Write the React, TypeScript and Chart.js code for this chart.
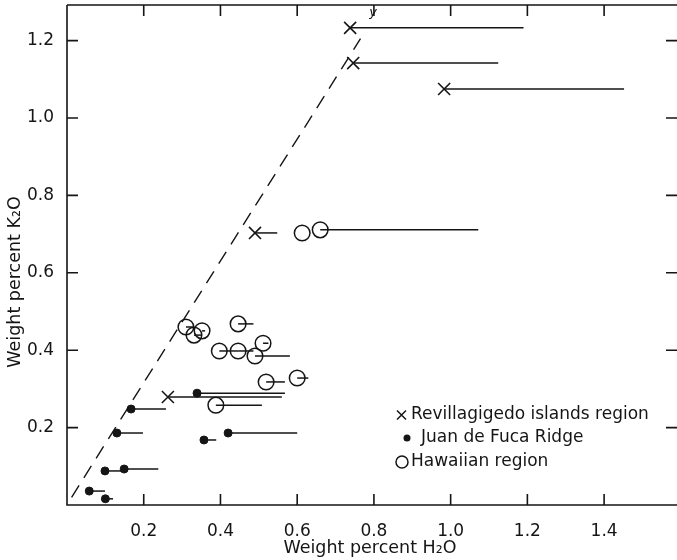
import React, { useEffect, useRef } from 'react';
import { Chart, registerables } from 'chart.js';

Chart.register(...registerables);

// Axis ticks
const xTickValues = [0.2, 0.4, 0.6, 0.8, 1.0, 1.2, 1.4];
const yTickValues = [0.2, 0.4, 0.6, 0.8, 1.0, 1.2];

// Revillagigedo islands region (×): H2O, K2O, right end of range line
const revX = [0.738, 0.746, 0.983, 0.49, 0.263];
const revY = [1.233, 1.142, 1.075, 0.703, 0.279];
const revEnd = [1.19, 1.124, 1.452, 0.548, 0.56];

// Juan de Fuca Ridge (●)
const fucaX = [0.339, 0.167, 0.13, 0.42, 0.357, 0.099, 0.149, 0.058, 0.1];
const fucaY = [0.289, 0.248, 0.186, 0.186, 0.168, 0.088, 0.093, 0.036, 0.016];
const fucaEnd = [0.568, 0.258, 0.198, 0.6, 0.389, 0.146, 0.238, 0.099, 0.12];

// Hawaiian region (○)
const hawX = [0.31, 0.331, 0.352, 0.446, 0.397, 0.446, 0.511, 0.49, 0.519, 0.6, 0.388, 0.613, 0.66];
const hawY = [0.46, 0.439, 0.45, 0.468, 0.398, 0.398, 0.418, 0.385, 0.318, 0.328, 0.258, 0.703, 0.711];
const hawEnd = [0.33, 0.35, 0.36, 0.486, 0.446, 0.486, 0.525, 0.581, 0.568, 0.629, 0.508, 0.613, 1.072];

// Dashed reference line
const dashX = [0.012, 0.765];
const dashY = [0.02, 1.205];

const legendLabels = ['Revillagigedo islands region', 'Juan de Fuca Ridge', 'Hawaiian region'];

const FONT = '"DejaVu Sans", sans-serif';
const INK = '#151515';

function segs(xs: number[], ys: number[], ends: number[]) {
  return xs.map((x, i) => ({
    type: 'scatter' as const,
    data: [{ x, y: ys[i] }, { x: ends[i], y: ys[i] }],
    showLine: true,
    borderColor: INK,
    borderWidth: 1.5,
    pointRadius: 0,
    order: 5,
  }));
}

const framePlugin = {
  id: 'frame',
  afterDraw(chart: any) {
    const { ctx, chartArea, scales } = chart;
    const { left, right, top, bottom } = chartArea;
    const x = scales.x;
    const y = scales.y;
    ctx.save();
    ctx.strokeStyle = INK;
    ctx.lineWidth = 1.6;
    ctx.beginPath();
    ctx.moveTo(left, top);
    ctx.lineTo(right, top);
    ctx.moveTo(left, top);
    ctx.lineTo(left, bottom);
    ctx.lineTo(right, bottom);
    ctx.stroke();
    ctx.beginPath();
    xTickValues.forEach((v) => {
      const px = x.getPixelForValue(v);
      ctx.moveTo(px, bottom);
      ctx.lineTo(px, bottom - 11);
      ctx.moveTo(px, top);
      ctx.lineTo(px, top + 11);
    });
    yTickValues.forEach((v) => {
      const py = y.getPixelForValue(v);
      ctx.moveTo(left, py);
      ctx.lineTo(left + 11, py);
      ctx.moveTo(right, py);
      ctx.lineTo(right - 11, py);
    });
    ctx.stroke();

    // axis titles
    ctx.fillStyle = INK;
    ctx.font = `17.5px ${FONT}`;
    ctx.textAlign = 'center';
    ctx.textBaseline = 'middle';
    ctx.fillText('Weight percent H₂O', 370, 548);
    ctx.save();
    ctx.translate(15, 282);
    ctx.rotate(-Math.PI / 2);
    ctx.fillText('Weight percent K₂O', 0, 0);
    ctx.restore();

    // 'y' label on dashed line
    ctx.font = `italic 13px ${FONT}`;
    ctx.fillText('y', x.getPixelForValue(0.798), y.getPixelForValue(1.272));

    // legend
    ctx.font = `17px ${FONT}`;
    ctx.textAlign = 'left';
    const rows = [415, 438, 462];
    // ×
    ctx.lineWidth = 1.5;
    ctx.beginPath();
    ctx.moveTo(397, rows[0] - 4.5);
    ctx.lineTo(406, rows[0] + 4.5);
    ctx.moveTo(406, rows[0] - 4.5);
    ctx.lineTo(397, rows[0] + 4.5);
    ctx.stroke();
    ctx.fillText(legendLabels[0], 411, rows[0]);
    // ●
    ctx.beginPath();
    ctx.arc(407, rows[1], 3.5, 0, Math.PI * 2);
    ctx.fill();
    ctx.fillText(legendLabels[1], 421, rows[1]);
    // ○
    ctx.beginPath();
    ctx.arc(402, rows[2], 6, 0, Math.PI * 2);
    ctx.stroke();
    ctx.fillText(legendLabels[2], 411, rows[2]);
    ctx.restore();
  },
};

export default function App() {
  const ref = useRef<HTMLCanvasElement | null>(null);

  useEffect(() => {
    if (!ref.current) return;
    const chart = new Chart(ref.current, {
      type: 'scatter',
      data: {
        datasets: [
          {
            label: legendLabels[0],
            data: revX.map((x, i) => ({ x, y: revY[i] })),
            pointStyle: 'crossRot',
            pointRadius: 8.5,
            borderColor: INK,
            borderWidth: 1.6,
            backgroundColor: INK,
            order: 1,
          },
          {
            label: legendLabels[1],
            data: fucaX.map((x, i) => ({ x, y: fucaY[i] })),
            pointStyle: 'circle',
            pointRadius: 4,
            borderColor: INK,
            borderWidth: 1,
            backgroundColor: INK,
            order: 1,
          },
          {
            label: legendLabels[2],
            data: hawX.map((x, i) => ({ x, y: hawY[i] })),
            pointStyle: 'circle',
            pointRadius: 7.8,
            borderColor: INK,
            borderWidth: 1.5,
            backgroundColor: 'rgba(0,0,0,0)',
            order: 1,
          },
          {
            type: 'scatter',
            data: dashX.map((x, i) => ({ x, y: dashY[i] })),
            showLine: true,
            borderColor: INK,
            borderWidth: 1.4,
            borderDash: [14, 9],
            pointRadius: 0,
            order: 4,
          },
          ...segs(revX, revY, revEnd),
          ...segs(fucaX, fucaY, fucaEnd),
          ...segs(hawX, hawY, hawEnd),
        ] as any,
      },
      options: {
        animation: false,
        responsive: false,
        maintainAspectRatio: false,
        layout: { autoPadding: false, padding: { top: 5, right: 0, left: 0, bottom: 0 } },
        plugins: {
          legend: { display: false },
          tooltip: { enabled: false },
        },
        scales: {
          x: {
            type: 'linear',
            min: 0,
            max: 1.59,
            grid: { display: false },
            border: { display: false },
            afterBuildTicks: (s: any) => {
              s.ticks = xTickValues.map((v) => ({ value: v }));
            },
            afterFit: (s: any) => {
              s.height = 55;
              s.paddingLeft = 0;
              s.paddingRight = 0;
            },
            ticks: {
              color: INK,
              font: { family: FONT, size: 17 },
              padding: 8,
              maxRotation: 0,
              callback: (v: any) => Number(v).toFixed(1),
            },
          },
          y: {
            type: 'linear',
            min: 0,
            max: 1.292,
            grid: { display: false },
            border: { display: false },
            afterBuildTicks: (s: any) => {
              s.ticks = yTickValues.map((v) => ({ value: v }));
            },
            afterFit: (s: any) => {
              s.width = 67;
              s.paddingTop = 0;
              s.paddingBottom = 0;
            },
            ticks: {
              color: INK,
              font: { family: FONT, size: 17 },
              padding: 5,
              callback: (v: any) => Number(v).toFixed(1),
            },
          },
        },
      },
      plugins: [framePlugin],
    });
    return () => chart.destroy();
  }, []);

  return (
    <div style={{ position: 'fixed', left: 0, top: 0, width: 677, height: 560, background: '#fff' }}>
      <canvas ref={ref} width={677} height={560} />
    </div>
  );
}
